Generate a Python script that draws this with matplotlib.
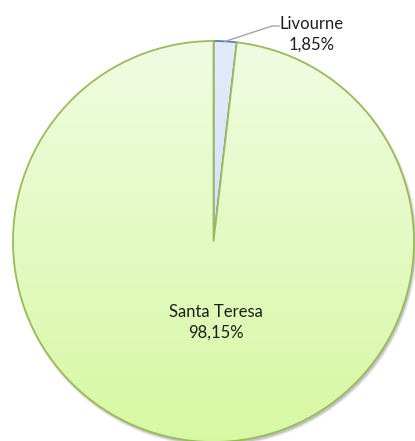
import matplotlib.pyplot as plt
import matplotlib.colors as mcolors
from matplotlib.patches import Circle
import numpy as np

labels = ['Livourne', 'Santa Teresa']
shares = [1.85, 98.15]
pct_text = ['1,85%', '98,15%']

plt.rcParams['font.family'] = ['Lato', 'DejaVu Sans']

fig = plt.figure(figsize=(4.15, 4.41), dpi=100)
ax = fig.add_axes([0, 0, 1, 1])

cx, cy, r = 213.5, 199.5, 200.5

# soft shadow under the pie
for i, a in enumerate([0.06, 0.10, 0.16]):
    ax.add_patch(Circle((cx + 1.5, cy - 2.5), r + 2 - i, facecolor='#303030',
                        edgecolor='none', alpha=a, zorder=0))

wedges, _ = ax.pie(shares, startangle=90, counterclock=False,
                   center=(cx, cy), radius=r, frame=True,
                   wedgeprops=dict(linewidth=1.3))

grads = [('#e2ebfa', '#cbdaf4'), ('#f0fce2', '#d7f8a3')]
edges = ['#4f81bd', '#9bbb59']
for w, (top, bot), ec, z in zip(wedges, grads, edges, [2, 3]):
    w.set_facecolor('none')
    w.set_edgecolor(ec)
    w.set_zorder(z + 0.5)
    cmap = mcolors.LinearSegmentedColormap.from_list('g', [bot, top])
    grad = np.linspace(0, 1, 256).reshape(-1, 1)
    im = ax.imshow(grad, cmap=cmap, origin='lower', aspect='auto',
                   extent=(cx - r, cx + r, cy - r, cy + r), zorder=z)
    im.set_clip_path(w)
ax.set_xlim(0, 415)
ax.set_ylim(0, 441)
ax.set_aspect('equal')
ax.axis('off')

# labels
ax.text(216, 119, labels[1] + '\n' + pct_text[1], ha='center', va='center',
        fontsize=12, color='#1f1f1f', linespacing=1.35, zorder=5)
ax.text(312, 407, labels[0] + '\n' + pct_text[0], ha='center', va='center',
        fontsize=12, color='#1f1f1f', linespacing=1.35, zorder=5)

# leader line for the small slice
ang = np.deg2rad(90 - shares[0] / 100 * 360 / 2)
ax.plot([cx + r * np.cos(ang), 272, 279], [cy + r * np.sin(ang), 415, 415],
        color='#a6a6a6', lw=1, zorder=5)

fig.savefig('out.png', dpi=100)
